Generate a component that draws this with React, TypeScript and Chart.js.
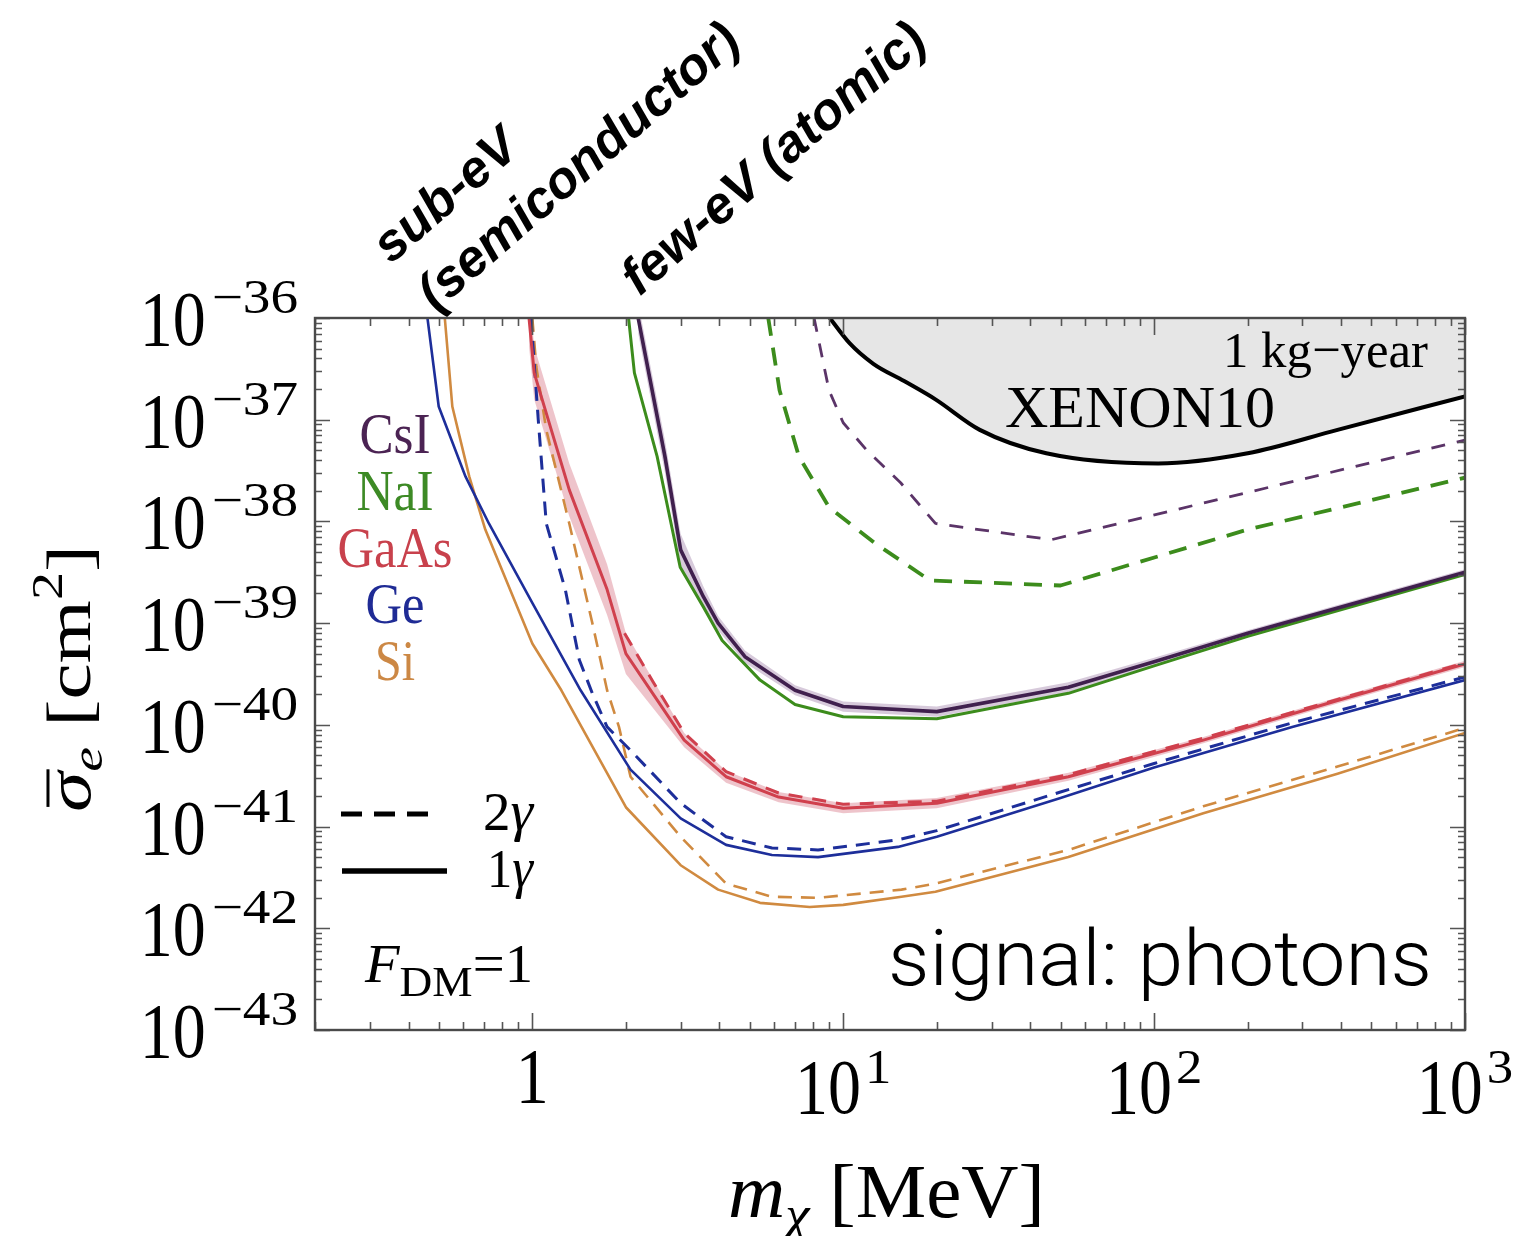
import React, { useEffect, useRef } from 'react';
import { Chart, registerables } from 'chart.js';

Chart.register(...registerables);

const SERIF = '"Liberation Serif", "Times New Roman", serif';
const SANS = '"Liberation Sans", Arial, sans-serif';

// axis ranges
const X_MIN = 0.2;
const X_MAX = 1000;
const Y_MIN = 1e-43;
const Y_MAX = 1e-36;

// tick labels
const X_TICKS: { v: number; base: string; sup: string }[] = [
  { v: 1, base: '1', sup: '' },
  { v: 10, base: '10', sup: '1' },
  { v: 100, base: '10', sup: '2' },
  { v: 1000, base: '10', sup: '3' },
];
const Y_TICK_EXPS = [-36, -37, -38, -39, -40, -41, -42, -43];

// curves: [m_chi in MeV, log10(sigma_e / cm^2)]
const XENON10: [number, number][] = [
  [8.9, -35.97], [10.5, -36.25], [12.5, -36.45], [15.7, -36.62], [19.8, -36.8], [27.5, -37.1], [45, -37.33],
  [103, -37.43], [200, -37.33], [389, -37.1], [1000, -36.77],
];

const CSI_1G: [number, number][] = [
  [2.19, -36.0], [2.67, -37.36], [3.0, -38.28], [3.55, -38.74], [3.96, -39.0], [4.83, -39.33],
  [7.0, -39.66], [10, -39.82], [20, -39.87], [53, -39.63], [100, -39.38], [200, -39.1], [1000, -38.5],
];
const CSI_BAND_HI: [number, number][] = [
  [2.19, -35.85], [2.67, -37.2], [3.0, -38.12], [3.55, -38.64], [3.96, -38.93], [4.83, -39.27],
  [7.0, -39.61], [10, -39.77], [20, -39.82], [53, -39.58], [100, -39.34], [200, -39.07], [1000, -38.47],
];
const CSI_BAND_LO: [number, number][] = [
  [2.19, -36.15], [2.67, -37.52], [3.0, -38.44], [3.55, -38.84], [3.96, -39.07], [4.83, -39.39],
  [7.0, -39.71], [10, -39.87], [20, -39.92], [53, -39.68], [100, -39.42], [200, -39.13], [1000, -38.53],
];
const CSI_2G: [number, number][] = [
  [8.06, -36.0], [9.0, -36.71], [10, -37.03], [11.9, -37.3], [15.3, -37.62], [19.8, -38.02],
  [46.7, -38.18], [1000, -37.2],
];

const NAI_1G: [number, number][] = [
  [2.04, -36.0], [2.13, -36.54], [2.52, -37.36], [2.99, -38.45], [3.55, -38.84], [4.08, -39.17],
  [5.4, -39.56], [7.0, -39.8], [10, -39.92], [20, -39.94], [53, -39.69], [100, -39.42], [200, -39.13],
  [1000, -38.52],
];
const NAI_2G: [number, number][] = [
  [5.74, -36.0], [6.24, -36.71], [7.2, -37.36], [9.0, -37.86], [12.6, -38.21], [19, -38.58],
  [50, -38.63], [200, -38.08], [1000, -37.57],
];

const GAAS_1G: [number, number][] = [
  [0.976, -36.0], [1.014, -36.54], [1.315, -37.69], [1.74, -38.67], [2.0, -39.3], [3.08, -40.15],
  [4.2, -40.51], [6.2, -40.71], [10, -40.82], [20, -40.77], [53, -40.51], [144, -40.15], [389, -39.76],
  [1000, -39.4],
];
const GAAS_BAND_HI: [number, number][] = [
  [0.976, -35.72], [1.014, -36.28], [1.315, -37.43], [1.74, -38.42], [2.0, -39.1], [3.08, -40.08],
  [4.2, -40.45], [6.2, -40.66], [10, -40.77], [20, -40.72], [53, -40.47], [144, -40.12], [389, -39.73],
  [1000, -39.37],
];
const GAAS_BAND_LO: [number, number][] = [
  [0.976, -36.28], [1.014, -36.8], [1.315, -37.95], [1.74, -38.92], [2.0, -39.5], [3.08, -40.22],
  [4.2, -40.57], [6.2, -40.76], [10, -40.87], [20, -40.82], [53, -40.55], [144, -40.18], [389, -39.79],
  [1000, -39.43],
];
const GAAS_2G: [number, number][] = [
  [1.98, -39.1], [2.45, -39.58], [3.08, -40.08], [4.2, -40.46], [6.2, -40.67], [10, -40.78],
  [20, -40.75], [53, -40.49], [144, -40.13], [389, -39.75], [1000, -39.39],
];

const GE_1G: [number, number][] = [
  [0.46, -36.0], [0.5, -36.87], [0.61, -37.56], [0.725, -38.02], [1.0, -38.8], [1.43, -39.66],
  [2.07, -40.44], [3.0, -40.92], [4.2, -41.18], [5.9, -41.28], [8.3, -41.3], [15, -41.2], [20, -41.1],
  [50, -40.72], [100, -40.42], [278, -40.02], [1000, -39.56],
];
const GE_2G: [number, number][] = [
  [0.99, -36.0], [1.045, -37.0], [1.109, -38.02], [1.277, -38.67], [1.416, -39.36], [1.56, -39.69],
  [1.74, -40.02], [2.07, -40.25], [3.0, -40.77], [4.2, -41.1], [5.9, -41.21], [8.3, -41.23],
  [15, -41.13], [20, -41.04], [50, -40.66], [100, -40.38], [278, -39.98], [1000, -39.53],
];

const SI_1G: [number, number][] = [
  [0.523, -36.0], [0.553, -36.87], [0.627, -37.56], [0.706, -38.08], [1.0, -39.2], [1.24, -39.66],
  [2.0, -40.81], [3.0, -41.38], [3.96, -41.62], [5.4, -41.75], [7.8, -41.79], [10, -41.77],
  [15.4, -41.69], [19.8, -41.64], [53, -41.3], [144, -40.87], [389, -40.48], [1000, -40.08],
];
const SI_2G: [number, number][] = [
  [1.0, -36.0], [1.03, -36.48], [1.109, -37.1], [1.315, -38.02], [1.56, -39.0], [1.74, -39.66],
  [1.9, -40.02], [2.07, -40.51], [3.0, -41.1], [4.2, -41.56], [5.9, -41.69], [8.3, -41.7],
  [15.4, -41.62], [19.8, -41.56], [53, -41.23], [144, -40.8], [389, -40.41], [1000, -40.03],
];

const MATERIALS: { name: string; color: string; baseline: number; width: number }[] = [
  { name: 'CsI', color: '#4b2353', baseline: 453, width: 71 },
  { name: 'NaI', color: '#3d8a25', baseline: 510, width: 77 },
  { name: 'GaAs', color: '#c8414c', baseline: 567, width: 115 },
  { name: 'Ge', color: '#1f2b95', baseline: 623, width: 59 },
  { name: 'Si', color: '#cc8845', baseline: 680, width: 40 },
];

const C_CSI = '#40204e';
const C_CSI_D = '#5b3468';
const C_NAI = '#3c8c1c';
const C_GAAS = '#d0404d';
const C_GE = '#1d2e9a';
const C_SI = '#d08a40';

type Run = { t: string; font: string; dx?: number; dy?: number; sx?: number; sy?: number };

function drawRuns(
  ctx: CanvasRenderingContext2D,
  runs: Run[],
  x: number,
  y: number,
  opts: { align?: 'left' | 'center' | 'right'; width?: number; color?: string; angle?: number; baseline?: CanvasTextBaseline } = {}
) {
  ctx.save();
  ctx.fillStyle = opts.color || '#000';
  ctx.textAlign = 'left';
  ctx.textBaseline = opts.baseline || 'alphabetic';
  const ws = runs.map((r) => {
    ctx.font = r.font;
    return ctx.measureText(r.t).width * (r.sx || 1) + (r.dx || 0);
  });
  const total = ws.reduce((a, b) => a + b, 0);
  const k = opts.width ? opts.width / total : 1;
  ctx.translate(x, y);
  if (opts.angle) ctx.rotate(opts.angle);
  ctx.scale(k, 1);
  let cx = opts.align === 'center' ? -total / 2 : opts.align === 'right' ? -total : 0;
  runs.forEach((r, i) => {
    ctx.save();
    ctx.font = r.font;
    ctx.translate(cx + (r.dx || 0), r.dy || 0);
    ctx.scale(r.sx || 1, r.sy || 1);
    ctx.fillText(r.t, 0, 0);
    ctx.restore();
    cx += ws[i];
  });
  ctx.restore();
}

const overlay = {
  id: 'overlay',
  afterDraw(chart: any) {
    const ctx: CanvasRenderingContext2D = chart.ctx;
    const xs = chart.scales.x;
    const ys = chart.scales.y;
    const { left, right, top, bottom } = chart.chartArea;
    ctx.save();
    // ticks
    ctx.strokeStyle = '#555';
    ctx.lineWidth = 1.6;
    ctx.beginPath();
    for (let d = -1; d <= 3; d++) {
      for (let k = 1; k <= 9; k++) {
        const v = k * Math.pow(10, d);
        if (v < X_MIN * 0.999 || v > X_MAX * 1.001) continue;
        const px = Math.round(xs.getPixelForValue(v)) + 0.5;
        const len = k === 1 ? 17 : 8;
        ctx.moveTo(px, bottom); ctx.lineTo(px, bottom - len);
        ctx.moveTo(px, top); ctx.lineTo(px, top + len);
      }
    }
    for (let d = -43; d <= -36; d++) {
      for (let k = 1; k <= 9; k++) {
        const v = k * Math.pow(10, d);
        if (v < Y_MIN * 0.999 || v > Y_MAX * 1.001) continue;
        const py = Math.round(ys.getPixelForValue(v)) + 0.5;
        const len = k === 1 ? 15 : 7;
        ctx.moveTo(left, py); ctx.lineTo(left + len, py);
        ctx.moveTo(right, py); ctx.lineTo(right - len, py);
      }
    }
    ctx.stroke();
    // frame
    ctx.strokeStyle = '#4a4a4a';
    ctx.lineWidth = 2.4;
    ctx.strokeRect(left, top, right - left, bottom - top);
    ctx.restore();

    // y tick labels
    Y_TICK_EXPS.forEach((e) => {
      const py = ys.getPixelForValue(Math.pow(10, e));
      drawRuns(ctx, [
        { t: '10', font: `66px ${SERIF}`, sy: 1.2, dy: 27 },
        { t: '\u2212' + Math.abs(e), font: `48px ${SERIF}`, sx: 1.15, dx: 6, dy: -5 },
      ], 298, py, { align: 'right' });
    });
    // x tick labels
    X_TICKS.forEach((t) => {
      const px = xs.getPixelForValue(t.v);
      if (t.sup) {
        drawRuns(ctx, [
          { t: t.base, font: `66px ${SERIF}`, sy: 1.2, dy: 1113 },
          { t: t.sup, font: `48px ${SERIF}`, sx: 1.1, dx: 4, dy: 1083 },
        ], px, 0, { align: 'center' });
      } else {
        drawRuns(ctx, [{ t: t.base, font: `66px ${SERIF}`, sy: 1.2 }], px, 1102, { align: 'center' });
      }
    });

    // axis titles
    drawRuns(ctx, [
      { t: 'm', font: `italic 72px ${SERIF}`, sy: 1.05 },
      { t: '\u03c7', font: `italic 50px ${SERIF}`, dy: 14 },
      { t: ' [MeV]', font: `72px ${SERIF}`, sy: 1.05 },
    ], 728, 1217, { width: 317 });

    // y title rotated
    {
      const F = 64;
      const runs: Run[] = [
        { t: '\u03c3', font: `italic ${F}px ${SERIF}` },
        { t: 'e', font: `italic 44px ${SERIF}`, dy: 12 },
        { t: ' [cm', font: `${F}px ${SERIF}` },
        { t: '2', font: `44px ${SERIF}`, dy: -28 },
        { t: ']', font: `${F}px ${SERIF}` },
      ];
      ctx.save();
      ctx.font = `italic ${F}px ${SERIF}`;
      const sw = ctx.measureText('\u03c3').width;
      let total = 0;
      runs.forEach((r) => { ctx.font = r.font; total += ctx.measureText(r.t).width; });
      const k = 267 / total;
      ctx.translate(90, 812);
      ctx.rotate(-Math.PI / 2);
      ctx.scale(k, 1);
      ctx.fillStyle = '#000';
      let cx = 0;
      runs.forEach((r) => {
        ctx.font = r.font;
        ctx.fillText(r.t, cx, r.dy || 0);
        cx += ctx.measureText(r.t).width;
      });
      ctx.fillRect(4, -0.68 * F, sw - 2, 3);
      ctx.restore();
    }

    // material labels
    MATERIALS.forEach((m) => {
      drawRuns(ctx, [{ t: m.name, font: `50px ${SERIF}`, sy: 1.12 }], 395, m.baseline, { align: 'center', width: m.width, color: m.color });
    });

    // line-style legend
    ctx.save();
    ctx.strokeStyle = '#000';
    ctx.lineWidth = 5;
    ctx.setLineDash([21, 12]);
    ctx.beginPath(); ctx.moveTo(341, 814); ctx.lineTo(432, 814); ctx.stroke();
    ctx.setLineDash([]);
    ctx.lineWidth = 5.5;
    ctx.beginPath(); ctx.moveTo(342, 871); ctx.lineTo(447, 871); ctx.stroke();
    ctx.restore();
    drawRuns(ctx, [{ t: '2', font: `50px ${SERIF}`, sy: 1.1 }, { t: '\u03b3', font: `italic 52px ${SERIF}`, sy: 1.1 }], 483, 830, { width: 50 });
    drawRuns(ctx, [{ t: '1', font: `50px ${SERIF}`, sy: 1.1 }, { t: '\u03b3', font: `italic 52px ${SERIF}`, sy: 1.1 }], 487, 887, { width: 46 });

    drawRuns(ctx, [
      { t: 'F', font: `italic 50px ${SERIF}`, sy: 1.1 },
      { t: 'DM', font: `40px ${SERIF}`, dy: 14, sy: 1.05 },
      { t: '=1', font: `50px ${SERIF}`, sy: 1.1 },
    ], 365, 982, { width: 168 });

    // XENON10 labels
    drawRuns(ctx, [{ t: '1 kg\u2212year', font: `46px ${SERIF}`, sy: 1.12 }], 1223, 367, { width: 205 });
    drawRuns(ctx, [{ t: 'XENON10', font: `60px ${SERIF}` }], 1005, 427, { width: 270 });

    // signal label
    drawRuns(ctx, [{ t: 'signal: photons', font: `300 70px Roboto, ${SANS}`, sy: 1.1 }], 1432, 985, { align: 'right', width: 544 });

    // rotated threshold labels above the plot
    const ang = (-41 * Math.PI) / 180;
    const bf = `italic bold 52px ${SANS}`;
    drawRuns(ctx, [{ t: 'sub-eV', font: bf }], 447, 197, { align: 'center', angle: ang, baseline: 'middle' });
    drawRuns(ctx, [{ t: '(semiconductor)', font: bf }], 580, 168, { align: 'center', angle: ang, baseline: 'middle' });
    drawRuns(ctx, [{ t: 'few-eV (atomic)', font: bf }], 775, 160, { align: 'center', angle: ang, baseline: 'middle' });
  },
};

const toXY = (pts: [number, number][]) => pts.map(([m, e]) => ({ x: m, y: Math.pow(10, e) }));

function lineDs(pts: [number, number][], color: string, width: number, dash: number[] = [], order = 0) {
  return {
    data: toXY(pts),
    borderColor: color,
    borderWidth: width,
    borderDash: dash,
    fill: false,
    pointRadius: 0,
    tension: 0,
    order,
  };
}

export default function App() {
  const ref = useRef<HTMLCanvasElement>(null);
  useEffect(() => {
    const canvas = ref.current!;
    const chart = new Chart(canvas, {
      type: 'line',
      data: {
        datasets: [
          {
            data: toXY(XENON10), borderColor: '#000', borderWidth: 4, fill: 'end',
            backgroundColor: '#e6e6e6', pointRadius: 0, cubicInterpolationMode: 'monotone', order: 10,
          },
          { data: toXY(GAAS_BAND_HI), borderWidth: 0, borderColor: 'rgba(0,0,0,0)', fill: false, pointRadius: 0, order: 8 },
          { data: toXY(GAAS_BAND_LO), borderWidth: 0, borderColor: 'rgba(0,0,0,0)', fill: '-1', backgroundColor: 'rgba(215,115,132,0.42)', pointRadius: 0, order: 8 },
          { data: toXY(CSI_BAND_HI), borderWidth: 0, borderColor: 'rgba(0,0,0,0)', fill: false, pointRadius: 0, order: 8 },
          { data: toXY(CSI_BAND_LO), borderWidth: 0, borderColor: 'rgba(0,0,0,0)', fill: '-1', backgroundColor: 'rgba(150,115,160,0.38)', pointRadius: 0, order: 8 },
          lineDs(CSI_2G, C_CSI_D, 2.8, [14, 12], 2),
          lineDs(NAI_2G, C_NAI, 3.8, [18, 12], 2),
          lineDs(GAAS_2G, C_GAAS, 3, [14, 10], 2),
          lineDs(GE_2G, C_GE, 3, [14, 9], 2),
          lineDs(SI_2G, C_SI, 2.6, [14, 9], 2),
          lineDs(CSI_1G, C_CSI, 3.6, [], 1),
          lineDs(NAI_1G, C_NAI, 3, [], 1),
          lineDs(GAAS_1G, C_GAAS, 3, [], 1),
          lineDs(GE_1G, C_GE, 2.6, [], 1),
          lineDs(SI_1G, C_SI, 2.6, [], 1),
        ] as any,
      },
      options: {
        responsive: false,
        animation: false,
        devicePixelRatio: 1,
        events: [],
        layout: { padding: { left: 315, right: 75, top: 318, bottom: 206 } },
        plugins: { legend: { display: false }, tooltip: { enabled: false } },
        elements: { point: { radius: 0 }, line: { borderJoinStyle: 'round' } },
        scales: {
          x: { type: 'logarithmic', min: X_MIN, max: X_MAX, display: false },
          y: { type: 'logarithmic', min: Y_MIN, max: Y_MAX, display: false },
        },
      } as any,
      plugins: [overlay],
    });
    return () => chart.destroy();
  }, []);
  return (
    <div style={{ position: 'fixed', left: 0, top: 0, width: 1540, height: 1236, background: '#fff' }}>
      <canvas ref={ref} width={1540} height={1236} style={{ width: 1540, height: 1236, display: 'block' }} />
    </div>
  );
}
